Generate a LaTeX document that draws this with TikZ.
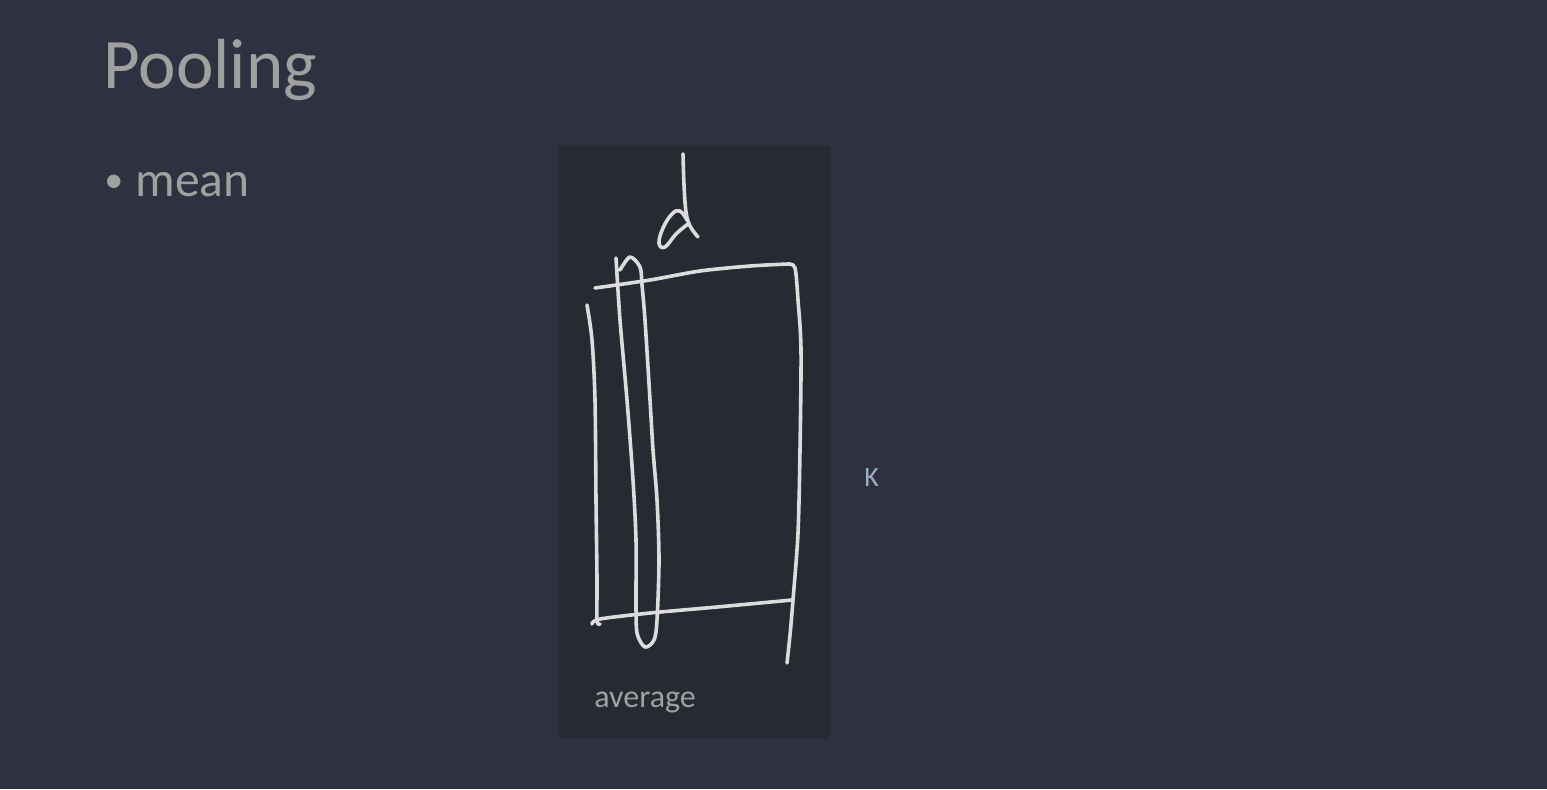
\documentclass[tikz,border=0pt]{standalone}
\usepackage{fontspec}
\setmainfont{Carlito}
\definecolor{bg}{HTML}{2E3240}
\definecolor{panel}{HTML}{262A33}
\definecolor{txt}{HTML}{A0A0A0}
\definecolor{ktxt}{HTML}{9AAFC0}
\definecolor{ink}{HTML}{DCDCDC}
\begin{document}
\begin{tikzpicture}[x=0.5pt,y=-0.5pt,
  lbl/.style={anchor=base west,inner sep=0pt,text=txt},
  pen/.style={draw=ink,line width=1.8pt,line cap=round,line join=round}]
\useasboundingbox[fill=bg] (0,0) rectangle (1547,789);
\fill[panel] (559,146) rectangle (830,739);
\node[lbl,font=\fontsize{35.5}{42}\selectfont] (title) at (103,88) {Pooling};
\node[lbl,font=\fontsize{19}{23}\selectfont] (bullet) at (104,192) {•};
\node[lbl,font=\fontsize{24.8}{30}\selectfont] (mean) at (135,196) {mean};
\node[lbl,font=\fontsize{16}{19}\selectfont] (avg) at (594,707) {average};
\node[lbl,text=ktxt,font=\fontsize{14}{17}\selectfont] (k) at (864,486) {K};
% d glyph
\draw[pen] plot[smooth,tension=0.6] coordinates {(683,154) (684,185) (686,212) (690,226) (698,237)};
\draw[pen] plot[smooth,tension=0.7] coordinates {(688,224) (676,234) (665,247) (659,243) (663,228) (672,214) (680,211) (687,220)};
% top line with right side
\draw[pen] plot[smooth,tension=0.5] coordinates {(595,288) (650,280) (700,271) (750,266) (788,264)};
\draw[pen] plot[smooth,tension=0.5] coordinates {(788,264) (795,268) (798,300) (801,350) (800,450) (798,533) (793,600) (790,635) (787,663)};
% left vertical
\draw[pen] plot[smooth,tension=0.5] coordinates {(587,305) (592,340) (595,400) (596,500) (597,580) (597,620) (600,624)};
% bottom line
\draw[pen] plot[smooth,tension=0.5] coordinates {(592,624) (600,619) (650,613) (717,607) (792,600)};
% narrow loop
\draw[pen] plot[smooth,tension=0.5] coordinates {(616,258) (620,320) (627,400) (633,480) (636,540) (636,600) (637,633) (645,647) (654,640) (657,620) (659,560) (657,500) (653,450) (650,400) (645,320) (642,285) (640,267) (630,257) (620,270)};
\end{tikzpicture}
\end{document}
